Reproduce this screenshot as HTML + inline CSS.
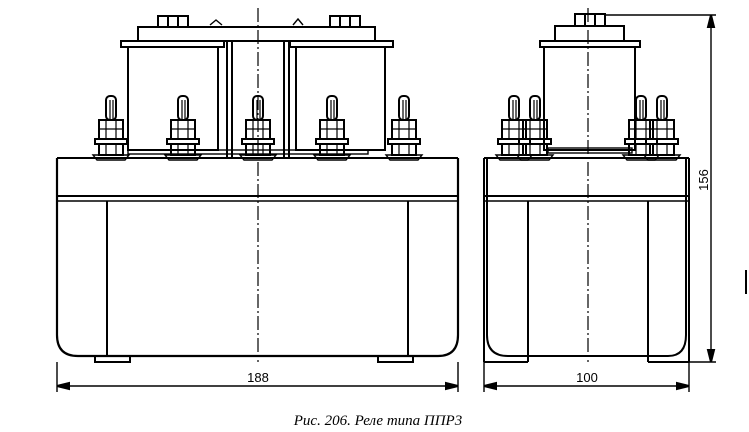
<!DOCTYPE html>
<html><head><meta charset="utf-8"><style>
html,body{margin:0;padding:0;background:#fff;width:749px;height:432px;overflow:hidden}
svg{display:block}
</style></head><body>
<svg width="749" height="432" viewBox="0 0 749 432" xmlns="http://www.w3.org/2000/svg" fill="none" stroke="#000" stroke-width="2">
<defs>
<g id="term">
 <rect x="-5" y="96" width="10" height="24" rx="4"/>
 <line x1="-1" y1="100" x2="-1" y2="120" stroke-width="1.2"/><line x1="2" y1="100" x2="2" y2="120" stroke-width="1.2"/>
 <rect x="-12" y="120" width="24" height="19"/>
 <line x1="-12" y1="129" x2="12" y2="129" stroke-width="1.2"/>
 <line x1="-5" y1="120" x2="-5" y2="139" stroke-width="1.2"/><line x1="5" y1="120" x2="5" y2="139" stroke-width="1.2"/>
 <rect x="-16" y="139" width="32" height="5"/>
 <rect x="-12" y="144" width="24" height="11"/>
 <line x1="-5" y1="144" x2="-5" y2="155" stroke-width="1.2"/><line x1="5" y1="144" x2="5" y2="155" stroke-width="1.2"/>
 <path d="M-18 155 L18 155 L14 160 L-14 160 Z" stroke-width="1.4"/>
</g>
</defs>
<!-- FRONT VIEW -->
<rect x="138" y="27" width="237" height="14"/>
<rect x="158" y="16" width="30" height="11"/><line x1="168" y1="16" x2="168" y2="27"/><line x1="178" y1="16" x2="178" y2="27"/>
<rect x="330" y="16" width="30" height="11"/><line x1="340" y1="16" x2="340" y2="27"/><line x1="350" y1="16" x2="350" y2="27"/>
<path d="M210 25 L216 20 L222 25 M293 25 L298 19 L303 25" stroke-width="1.4"/>
<rect x="121" y="41" width="103" height="6"/>
<rect x="290" y="41" width="103" height="6"/>
<rect x="128" y="47" width="90" height="103"/>
<rect x="296" y="47" width="89" height="103"/>
<line x1="227" y1="41" x2="227" y2="158"/><line x1="232" y1="41" x2="232" y2="158"/>
<line x1="284" y1="41" x2="284" y2="158"/><line x1="289" y1="41" x2="289" y2="158"/>
<rect x="128" y="150" width="240" height="4" stroke-width="1.4"/>
<use href="#term" x="111"/><use href="#term" x="183"/><use href="#term" x="258"/><use href="#term" x="332"/><use href="#term" x="404"/>
<line x1="57" y1="158" x2="458" y2="158"/>
<line x1="57" y1="196" x2="458" y2="196"/><line x1="57" y1="201" x2="458" y2="201" stroke-width="1.4"/>
<path d="M57 158 L57 335 Q57 356 78 356 L438 356 Q458 356 458 335 L458 158" stroke-width="2.2"/>
<line x1="107" y1="201" x2="107" y2="356"/><line x1="408" y1="201" x2="408" y2="356"/>
<rect x="95" y="356" width="35" height="6"/><rect x="378" y="356" width="35" height="6"/>
<line x1="258" y1="8" x2="258" y2="362" stroke-width="1.2" stroke-dasharray="14 3 2 3"/>
<!-- dimension 188 -->
<line x1="57" y1="362" x2="57" y2="392" stroke-width="1.4"/><line x1="458" y1="362" x2="458" y2="392" stroke-width="1.4"/>
<line x1="57" y1="386" x2="458" y2="386" stroke-width="1.4"/>
<path d="M57 386 l12 -3 v6 z M458 386 l-12 -3 v6 z" fill="#000"/>
<text x="258" y="382" font-family="Liberation Sans, sans-serif" font-size="13" fill="#000" stroke="none" text-anchor="middle">188</text>
<!-- SIDE VIEW -->
<rect x="575" y="14" width="30" height="12"/><line x1="585" y1="14" x2="585" y2="26"/><line x1="595" y1="14" x2="595" y2="26"/>
<rect x="555" y="26" width="69" height="15"/>
<rect x="540" y="41" width="100" height="6"/>
<rect x="544" y="47" width="91" height="103"/>
<rect x="548" y="148" width="84" height="5" stroke-width="1.4"/>
<use href="#term" x="514"/><use href="#term" x="535"/><use href="#term" x="641"/><use href="#term" x="662"/>
<line x1="484" y1="158" x2="689" y2="158"/>
<line x1="484" y1="196" x2="689" y2="196"/><line x1="484" y1="201" x2="689" y2="201" stroke-width="1.4"/>
<path d="M487 158 L487 335 Q487 356 508 356 L668 356 Q686 356 686 335 L686 158" stroke-width="2"/>
<line x1="484" y1="158" x2="484" y2="362"/><line x1="689" y1="158" x2="689" y2="362"/>
<line x1="484" y1="362" x2="528" y2="362"/><line x1="528" y1="201" x2="528" y2="362"/>
<line x1="648" y1="201" x2="648" y2="362"/><line x1="648" y1="362" x2="689" y2="362"/>
<line x1="588" y1="8" x2="588" y2="362" stroke-width="1.2" stroke-dasharray="14 3 2 3"/>
<!-- dimension 100 -->
<line x1="484" y1="362" x2="484" y2="392" stroke-width="1.4"/><line x1="689" y1="362" x2="689" y2="392" stroke-width="1.4"/>
<line x1="484" y1="386" x2="689" y2="386" stroke-width="1.4"/>
<path d="M484 386 l12 -3 v6 z M689 386 l-12 -3 v6 z" fill="#000"/>
<text x="587" y="382" font-family="Liberation Sans, sans-serif" font-size="13" fill="#000" stroke="none" text-anchor="middle">100</text>
<!-- dimension 156 -->
<line x1="605" y1="15" x2="716" y2="15" stroke-width="1.4"/>
<line x1="689" y1="362" x2="716" y2="362" stroke-width="1.4"/>
<line x1="711" y1="15" x2="711" y2="362" stroke-width="1.4"/>
<path d="M711 15 l-3 12 h6 z M711 362 l-3 -12 h6 z" fill="#000"/>
<text transform="translate(708,180) rotate(-90)" font-family="Liberation Sans, sans-serif" font-size="13" fill="#000" stroke="none" text-anchor="middle">156</text>
<path d="M746 270 v24" stroke-width="2"/>
<text x="378" y="425" font-family="Liberation Serif, serif" font-style="italic" font-size="15" fill="#000" stroke="none" text-anchor="middle">Рис. 206. Реле типа ППР3</text>
</svg>
</body></html>
